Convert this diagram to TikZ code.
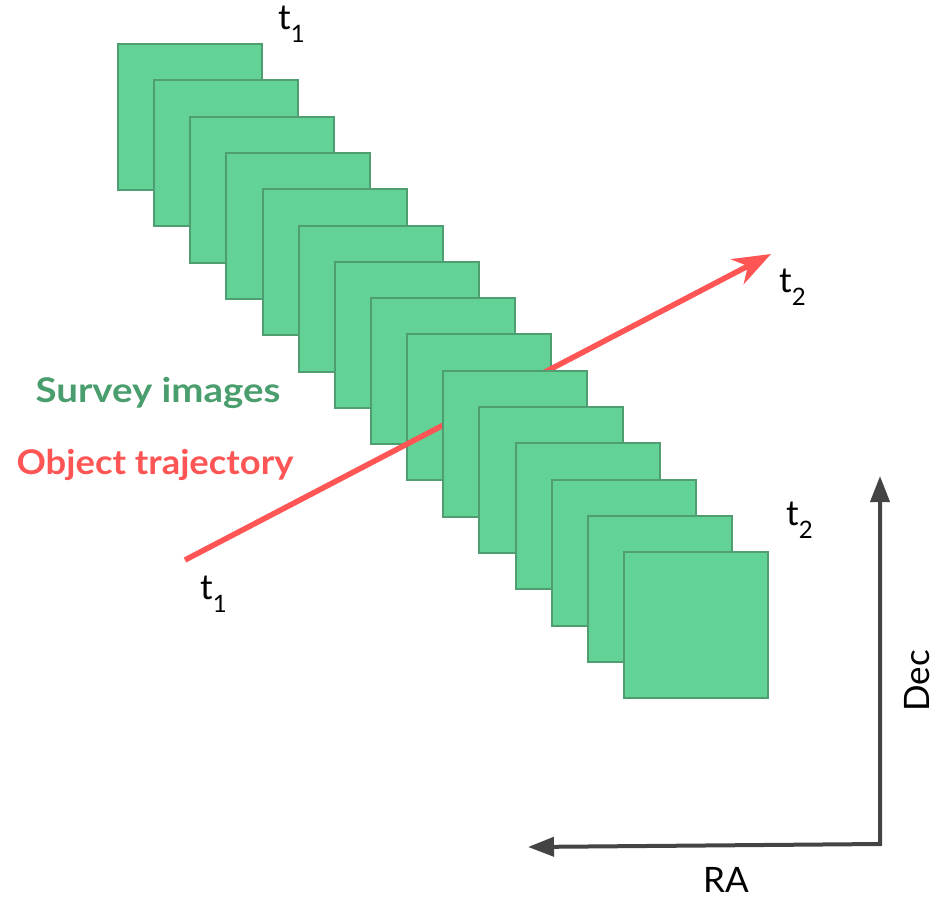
\documentclass[tikz,border=0pt]{standalone}
\usepackage{fontspec}
\setmainfont{Lato}
\usetikzlibrary{arrows.meta}
\definecolor{imgfill}{HTML}{63D297}
\definecolor{imgedge}{HTML}{4E9E72}
\definecolor{trajred}{HTML}{FF5555}
\definecolor{labgreen}{HTML}{4A9E6E}
\definecolor{axisgray}{HTML}{444444}
\newcommand\tsublabel[1]{t\raisebox{-13pt}{\fontsize{24}{24}\selectfont #1}}
\begin{document}
\begin{tikzpicture}[x=1pt,y=-1pt,
  imgbox/.style={draw=imgedge, fill=imgfill, line width=2pt, inner sep=0pt,
    minimum width=144pt, minimum height=146pt, anchor=north west},
  tlab/.style={font=\fontsize{35}{35}\selectfont, anchor=base west, inner sep=0pt},
  axlab/.style={font=\fontsize{35}{35}\selectfont, inner sep=0pt},
  legend/.style={font=\fontsize{34}{34}\selectfont\bfseries, anchor=base, inner sep=0pt},
  traj/.style={draw=trajred, line width=5.5pt,
    -{Stealth[length=38pt,width=28pt,inset=12pt]}},
  axisline/.style={draw=axisgray, line width=4pt, line join=miter,
    {Triangle[length=26pt,width=19pt]}-{Triangle[length=26pt,width=19pt]}}]
\useasboundingbox (0,0) rectangle (943,898);
% survey images behind the trajectory
\foreach \i in {0,...,8}
  \node[imgbox] (img\i) at ({117+36.14*\i},{43+36.3*\i}) {};
% trajectory
\coordinate (trajStart) at (185,560);
\coordinate (trajEnd) at (771,254);
\draw[traj] (trajStart) -- (trajEnd);
% survey images in front of the trajectory
\foreach \i in {9,...,14}
  \node[imgbox] (img\i) at ({117+36.14*\i},{43+36.3*\i}) {};
% time labels
\node[tlab] (tTopA) at (278,29) {\tsublabel{1}};
\node[tlab] (tTopB) at (786,525) {\tsublabel{2}};
\node[tlab] (tTrajA) at (200,599) {\tsublabel{1}};
\node[tlab] (tTrajB) at (779,292) {\tsublabel{2}};
% legend
\node[legend, text=labgreen] (legSurvey) at (158,402) {\scalebox{1.13}[1]{Survey images}};
\node[legend, text=trajred] (legTraj) at (155,474) {\scalebox{1.07}[1]{Object trajectory}};
% axes
\coordinate (decTip) at (880,476);
\coordinate (corner) at (880,844);
\coordinate (raTip) at (528,847);
\draw[axisline] (decTip) -- (corner) -- (raTip);
\node[axlab, rotate=90] (decLab) at (917,681) {Dec};
\node[axlab] (raLab) at (726,880) {RA};
\end{tikzpicture}
\end{document}
